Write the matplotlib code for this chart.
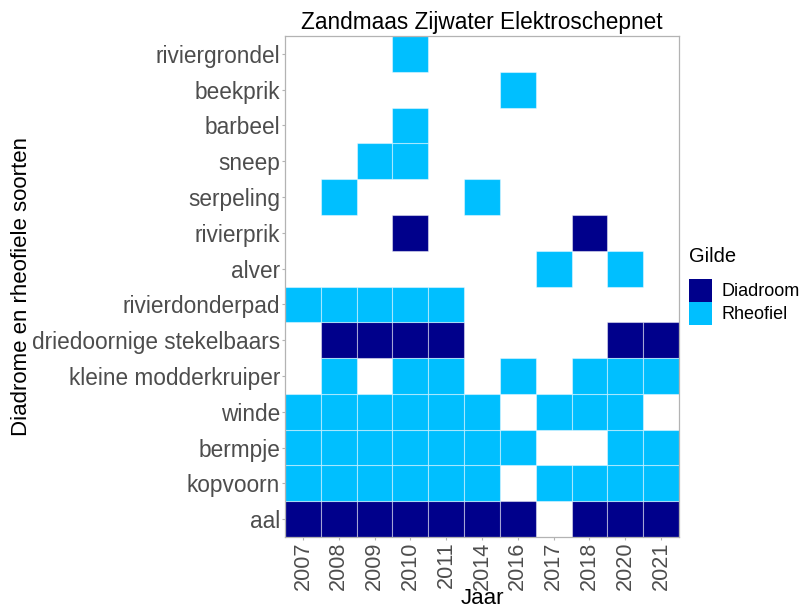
import matplotlib
matplotlib.use("Agg")
import matplotlib.pyplot as plt
from matplotlib.patches import Patch, Rectangle

plt.rcParams['font.family'] = ['Liberation Sans', 'DejaVu Sans']

years = ["2007", "2008", "2009", "2010", "2011", "2014", "2016", "2017", "2018", "2020", "2021"]
species = ["aal", "kopvoorn", "bermpje", "winde", "kleine modderkruiper",
           "driedoornige stekelbaars", "rivierdonderpad", "alver", "rivierprik",
           "serpeling", "sneep", "barbeel", "beekprik", "riviergrondel"]

# guild per species, list of years present
diadroom = {
    "aal": ["2007", "2008", "2009", "2010", "2011", "2014", "2016", "2018", "2020", "2021"],
    "driedoornige stekelbaars": ["2008", "2009", "2010", "2011", "2020", "2021"],
    "rivierprik": ["2010", "2018"],
}
rheofiel = {
    "kopvoorn": ["2007", "2008", "2009", "2010", "2011", "2014", "2017", "2018", "2020", "2021"],
    "bermpje": ["2007", "2008", "2009", "2010", "2011", "2014", "2016", "2020", "2021"],
    "winde": ["2007", "2008", "2009", "2010", "2011", "2014", "2017", "2018", "2020"],
    "kleine modderkruiper": ["2008", "2010", "2011", "2016", "2018", "2020", "2021"],
    "rivierdonderpad": ["2007", "2008", "2009", "2010", "2011"],
    "alver": ["2017", "2020"],
    "serpeling": ["2008", "2014"],
    "sneep": ["2009", "2010"],
    "barbeel": ["2010"],
    "beekprik": ["2016"],
    "riviergrondel": ["2010"],
}

col_d = "#00008B"
col_r = "#00BFFF"

fig = plt.figure(figsize=(7.99, 6.08), dpi=100)
ax = fig.add_axes([285/799, 1-537/608, (679-285)/799, (537-36)/608])

def draw(d, color):
    for sp, yrs in d.items():
        yi = species.index(sp)
        for y in yrs:
            xi = years.index(y)
            ax.add_patch(Rectangle((xi-0.5, yi-0.5), 1, 1, facecolor=color,
                                   edgecolor=(1, 1, 1, 0.45), linewidth=0.8))

draw(diadroom, col_d)
draw(rheofiel, col_r)

ax.set_xlim(-0.5, len(years)-0.5)
ax.set_ylim(-0.5, len(species)-0.5)
ax.set_xticks(range(len(years)))
ax.set_xticklabels(years, rotation=90, fontsize=15.6, color="#4D4D4D")
ax.set_yticks(range(len(species)))
ax.set_yticklabels(species, fontsize=16.3, color="#4D4D4D")
ax.tick_params(length=2.5, color="#B3B3B3", width=0.8, pad=1)
for s in ax.spines.values():
    s.set_color("#B3B3B3")
    s.set_linewidth(0.9)
ax.set_xlabel("Jaar", fontsize=16, labelpad=-2)
ax.set_ylabel("Diadrome en rheofiele soorten", fontsize=16, va="center")
ax.yaxis.set_label_coords((22 - 285) / 394, 0.5)
ax.set_title("Zandmaas Zijwater Elektroschepnet", fontsize=16.3, pad=5)

handles = [Patch(facecolor=col_d, edgecolor='none', label="Diadroom"),
           Patch(facecolor=col_r, edgecolor='none', label="Rheofiel")]
leg = fig.legend(handles=handles, title="Gilde", loc="upper left",
                 bbox_to_anchor=(689/799, 1-247/608), frameon=False,
                 fontsize=13, title_fontsize=14.5, handlelength=1.25, handleheight=1.6,
                 handletextpad=0.55, labelspacing=0.0, borderaxespad=0, borderpad=0)
leg._legend_box.align = "left"
leg._legend_box.sep = 9

fig.savefig("out.png", dpi=100)
